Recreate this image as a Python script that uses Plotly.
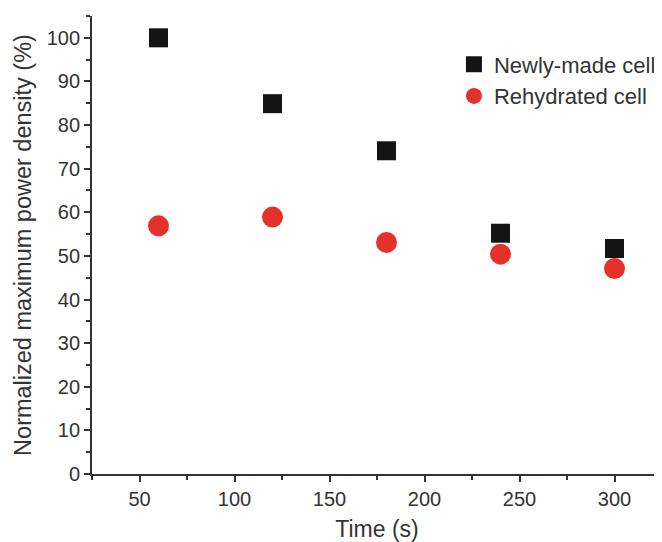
import plotly.graph_objects as go

time_s = [60, 120, 180, 240, 300]
newly_made = [100.0, 84.9, 74.1, 55.2, 51.7]
rehydrated = [56.9, 58.9, 53.1, 50.4, 47.1]

fig = go.Figure()
fig.add_trace(go.Scatter(x=time_s, y=newly_made, mode="markers", name="Newly-made cell",
                         marker=dict(symbol="square", size=19, color="#141414")))
fig.add_trace(go.Scatter(x=time_s, y=rehydrated, mode="markers", name="Rehydrated cell",
                         marker=dict(symbol="circle", size=21, color="#e5312b")))

axis_common = dict(showline=True, linewidth=1.8, linecolor="#333", ticks="outside",
                   tickcolor="#333", ticklen=6, tickwidth=1.5, showgrid=False, zeroline=False,
                   tickfont=dict(size=20, color="#333"), mirror=False, automargin=False)
# page body has an 8px margin; size the figure so the plot area lands where it should
fig.update_layout(
    width=654, height=534,
    margin=dict(l=84, r=0, t=8, b=68),
    paper_bgcolor="white", plot_bgcolor="white",
    font=dict(family="Liberation Sans, Arial, sans-serif", color="#333"),
    xaxis=dict(range=[25, 325], tick0=50, dtick=50,
               minor=dict(dtick=25, tick0=25, ticks="outside", ticklen=4, tickcolor="#333", tickwidth=1.5),
               title=dict(text="Time (s)", font=dict(size=23, color="#333"), standoff=14),
               **axis_common),
    yaxis=dict(range=[0, 105], tick0=0, dtick=10,
               minor=dict(dtick=5, tick0=0, ticks="outside", ticklen=4, tickcolor="#333", tickwidth=1.5),
               title=dict(text="Normalized maximum power density (%)", font=dict(size=23.5, color="#333"), standoff=8),
               **axis_common),
    legend=dict(x=0.635, y=0.94, xanchor="left", yanchor="top", bgcolor="rgba(0,0,0,0)",
                font=dict(size=22, color="#333"), itemsizing="trace", tracegroupgap=0),
    showlegend=True,
)
fig.write_html("out.html")
